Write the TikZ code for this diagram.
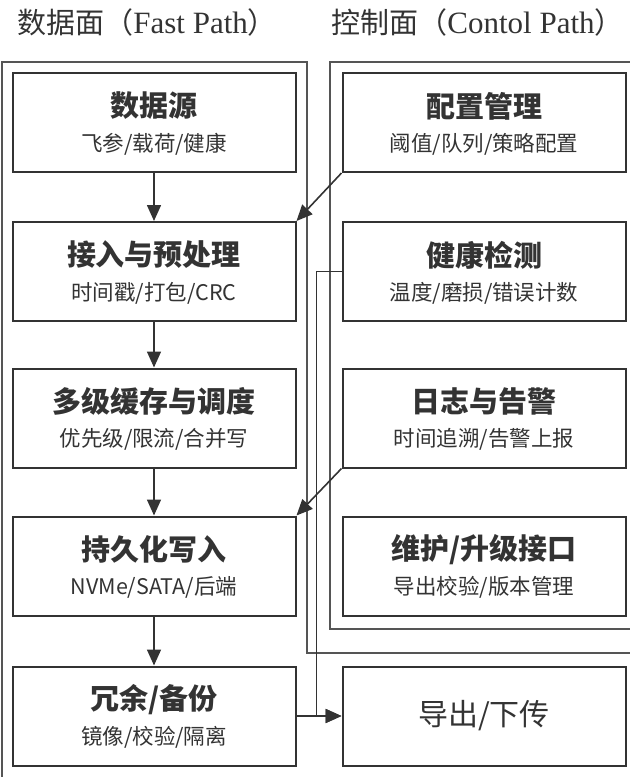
\documentclass[tikz,border=0pt]{standalone}
\usepackage{fontspec}
\setmainfont{Noto Sans CJK SC}
\newfontfamily\hdlatin{Liberation Serif}
\usetikzlibrary{arrows.meta, calc}
\definecolor{LineDark}{HTML}{333333}
\definecolor{LineMid}{HTML}{555555}

\begin{document}
\begin{tikzpicture}[x=0.5pt, y=-0.5pt,
  every node/.style={text=LineDark},
  box/.style={draw=LineDark, line width=1pt, minimum width=141.5pt,
              minimum height=49.5pt, inner sep=0pt},
  ttl/.style={font=\bfseries\fontsize{14.5}{17}\selectfont, inner sep=0pt},
  sub/.style={font=\fontsize{10.75}{13}\selectfont, inner sep=0pt},
  hd/.style={font=\fontsize{14.5}{18}\selectfont, anchor=west, inner sep=0pt},
  frame/.style={draw=LineMid, line width=0.75pt},
  conn/.style={draw=LineDark, line width=0.8pt, -{Triangle[length=8pt, width=7pt]}}]
  \clip (0,0) rectangle (630,777);
  % Headings
  \node[hd] (hdData) at (17,22) {数据面（{\hdlatin\fontsize{15.5}{18}\selectfont Fast Path}）};
  \node[hd] (hdCtrl) at (331,22) {控制面（{\hdlatin\fontsize{15.5}{18}\selectfont Contol Path}）};
  % Frames (data plane wraps round the export box)
  \draw[frame] (2,800) -- (2,62) -- (307,62) -- (307,653) -- (650,653);
  \draw[frame] (650,62) -- (330,62) -- (330,629) -- (650,629);
  % Data path boxes (left)
  \foreach \n/\yy in {src/122.5, pre/271.5, buf/418, per/566, red/716}
    \node[box] (\n) at (154,\yy) {};
  % Control path boxes (right)
  \foreach \n/\yy in {cfg/122.5, hlth/271.5, log/418, mnt/566}
    \node[box] (\n) at (484,\yy) {};
  \node[box, font=\fontsize{15}{17}\selectfont] (exp) at (484,716) {导出/下传};
  % Box titles and details
  \foreach \n/\t/\s in {src/{数据源}/{飞参/载荷/健康},
                        pre/{接入与预处理}/{时间戳/打包/CRC},
                        buf/{多级缓存与调度}/{优先级/限流/合并写},
                        per/{持久化写入}/{NVMe/SATA/后端},
                        red/{冗余/备份}/{镜像/校验/隔离},
                        cfg/{配置管理}/{阈值/队列/策略配置},
                        hlth/{健康检测}/{温度/磨损/错误计数},
                        log/{日志与告警}/{时间追溯/告警上报},
                        mnt/{维护/升级接口}/{导出校验/版本管理}} {
    \node[ttl] (\n-t) at ($(\n.north)+(0,34)$) {\t};
    \node[sub] (\n-s) at ($(\n.north)+(0,72)$) {\s};
  }
  % Fast path flow
  \foreach \a/\b in {src/pre, pre/buf, buf/per, per/red}
    \draw[conn] (\a) -- (\b);
  % Control into data path
  \draw[conn] (cfg.south west) -- (pre.north east);
  \draw[conn] (log.south west) -- (per.north east);
  % To export
  \draw[conn] (red) -- (exp);
  \draw[conn] (hlth.west) -- ++(-25,0) |- (exp.west);
\end{tikzpicture}
\end{document}
